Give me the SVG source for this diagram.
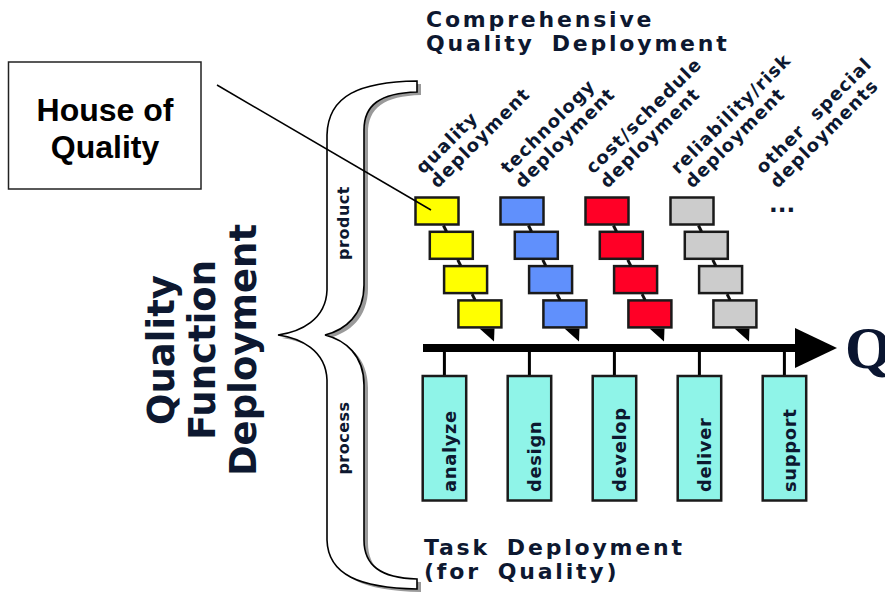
<svg xmlns="http://www.w3.org/2000/svg" width="885" height="609" viewBox="0 0 885 609">
<defs>
<style>
.lbl{font-family:"DejaVu Sans",Verdana,sans-serif;font-weight:bold;fill:#0d1830;}
.diag{font-size:18px;letter-spacing:1.2px;}
.task{font-size:18px;letter-spacing:0.6px;}
.ttl{font-size:22px;letter-spacing:2.8px;word-spacing:-2px;}
.bx{stroke:#1a1a1a;stroke-width:2.5;}
.y{fill:#ffff00;}.b{fill:#6090fc;}.r{fill:#ff0026;}.g{fill:#cccccc;}
.tk{fill:#8ff4e8;stroke:#1a1a1a;stroke-width:2.5;}
.lnk{stroke:#111;stroke-width:3;}
</style>
<g id="col">
<rect class="bx" x="0" y="0" width="43" height="27"/>
<rect class="bx" x="14.3" y="34.3" width="43" height="27"/>
<rect class="bx" x="28.6" y="68.6" width="43" height="27"/>
<rect class="bx" x="42.9" y="102.9" width="43" height="27"/>
<line class="lnk" x1="28" y1="28" x2="31" y2="34"/>
<line class="lnk" x1="42.3" y1="62.3" x2="45.3" y2="68.3"/>
<line class="lnk" x1="56.6" y1="96.6" x2="59.6" y2="102.6"/>
<polygon points="64,131 79,131 78.5,144" fill="#000"/>
</g>
<path id="brace" d="M417,81 C360,82 328,95 327,135 L327,290 C326,320 300,332 278,335 C300,338 326,350 327,380 L327,540 C328,575 360,588 417,589 L417,579 C380,578 364,565 364,540 L364,385 C364,355 345,340 325,335 C345,330 364,315 364,285 L364,130 C364,105 380,93 417,92 Z"/>
</defs>
<rect width="885" height="609" fill="#ffffff"/>

<g id="title-top">
<text class="lbl ttl" x="426" y="27">Comprehensive</text>
<text class="lbl ttl" x="426" y="51" xml:space="preserve">Quality  Deployment</text>
</g>

<g id="house-of-quality">
<rect x="8.5" y="62" width="192.5" height="127" fill="#fff" stroke="#222" stroke-width="1.5"/>
<text x="105" y="121" font-family="Liberation Sans, Arial, sans-serif" font-weight="bold" font-size="32" text-anchor="middle" fill="#000">House of</text>
<text x="105" y="158" font-family="Liberation Sans, Arial, sans-serif" font-weight="bold" font-size="32" text-anchor="middle" fill="#000">Quality</text>
</g>

<g id="qfd-label">
<text class="lbl" font-size="37" text-anchor="middle" transform="translate(174,350) rotate(-90)">Quality</text>
<text class="lbl" font-size="37" text-anchor="middle" transform="translate(215,350) rotate(-90)">Function</text>
<text class="lbl" font-size="37" text-anchor="middle" transform="translate(256,350) rotate(-90)">Deployment</text>
</g>

<g id="brace-group">
<use href="#brace" transform="translate(4,3)" fill="#9a9a9a"/>
<use href="#brace" fill="#ffffff" stroke="#000" stroke-width="1.6"/>
<text class="lbl" font-size="16" letter-spacing="0.5" text-anchor="middle" transform="translate(349,223) rotate(-90)">product</text>
<text class="lbl" font-size="16" letter-spacing="0.5" text-anchor="middle" transform="translate(349,438) rotate(-90)">process</text>
</g>

<g id="quality-deployment">
<use href="#col" class="y" transform="translate(415.5,197.5)"/>
<text class="lbl diag" transform="translate(437.5,189) rotate(-45)"><tspan x="0" y="-20">quality</tspan><tspan x="0" y="0">deployment</tspan></text>
</g>
<g id="technology-deployment">
<use href="#col" class="b" transform="translate(500.5,197.5)"/>
<text class="lbl diag" transform="translate(522.5,189) rotate(-45)"><tspan x="0" y="-20">technology</tspan><tspan x="0" y="0">deployment</tspan></text>
</g>
<g id="cost-schedule-deployment">
<use href="#col" class="r" transform="translate(585.5,197.5)"/>
<text class="lbl diag" transform="translate(607.5,189) rotate(-45)"><tspan x="0" y="-20">cost/schedule</tspan><tspan x="0" y="0">deployment</tspan></text>
</g>
<g id="reliability-risk-deployment">
<use href="#col" class="g" transform="translate(670.5,197.5)"/>
<text class="lbl diag" transform="translate(692.5,189) rotate(-45)"><tspan x="0" y="-20">reliability/risk</tspan><tspan x="0" y="0">deployment</tspan></text>
</g>
<g id="other-special-deployments">
<text class="lbl diag" transform="translate(777.5,189) rotate(-45)" xml:space="preserve"><tspan x="0" y="-20">other  special</tspan><tspan x="0" y="0">deployments</tspan></text>
<text class="lbl" x="769" y="212" font-size="23">...</text>
</g>

<g id="connectors">
<line x1="217" y1="85" x2="431" y2="210" stroke="#000" stroke-width="1.5"/>
<line x1="423" y1="348" x2="800" y2="348" stroke="#000" stroke-width="8"/>
<polygon points="795,328 837,348 795,368" fill="#000"/>
<g stroke="#000" stroke-width="3">
<line x1="444.4" y1="350" x2="444.4" y2="377"/>
<line x1="529.4" y1="350" x2="529.4" y2="377"/>
<line x1="614.4" y1="350" x2="614.4" y2="377"/>
<line x1="699.4" y1="350" x2="699.4" y2="377"/>
<line x1="784.4" y1="350" x2="784.4" y2="377"/>
</g>
</g>

<g id="q-label">
<text x="845" y="368" font-family="Liberation Serif, Times New Roman, serif" font-weight="bold" font-size="60" fill="#0a1530">Q</text>
</g>

<g id="analyze"><rect class="tk" x="422.7" y="376" width="43.5" height="124.5"/><text class="lbl task" transform="translate(456,492) rotate(-90)">analyze</text></g>
<g id="design"><rect class="tk" x="507.7" y="376" width="43.5" height="124.5"/><text class="lbl task" transform="translate(541,492) rotate(-90)">design</text></g>
<g id="develop"><rect class="tk" x="592.7" y="376" width="43.5" height="124.5"/><text class="lbl task" transform="translate(626,492) rotate(-90)">develop</text></g>
<g id="deliver"><rect class="tk" x="677.7" y="376" width="43.5" height="124.5"/><text class="lbl task" transform="translate(711,492) rotate(-90)">deliver</text></g>
<g id="support"><rect class="tk" x="762.7" y="376" width="43.5" height="124.5"/><text class="lbl task" transform="translate(796,492) rotate(-90)">support</text></g>

<g id="title-bottom">
<text class="lbl ttl" x="424" y="555" xml:space="preserve">Task  Deployment</text>
<text class="lbl ttl" x="424" y="579" xml:space="preserve">(for  Quality)</text>
</g>
</svg>
